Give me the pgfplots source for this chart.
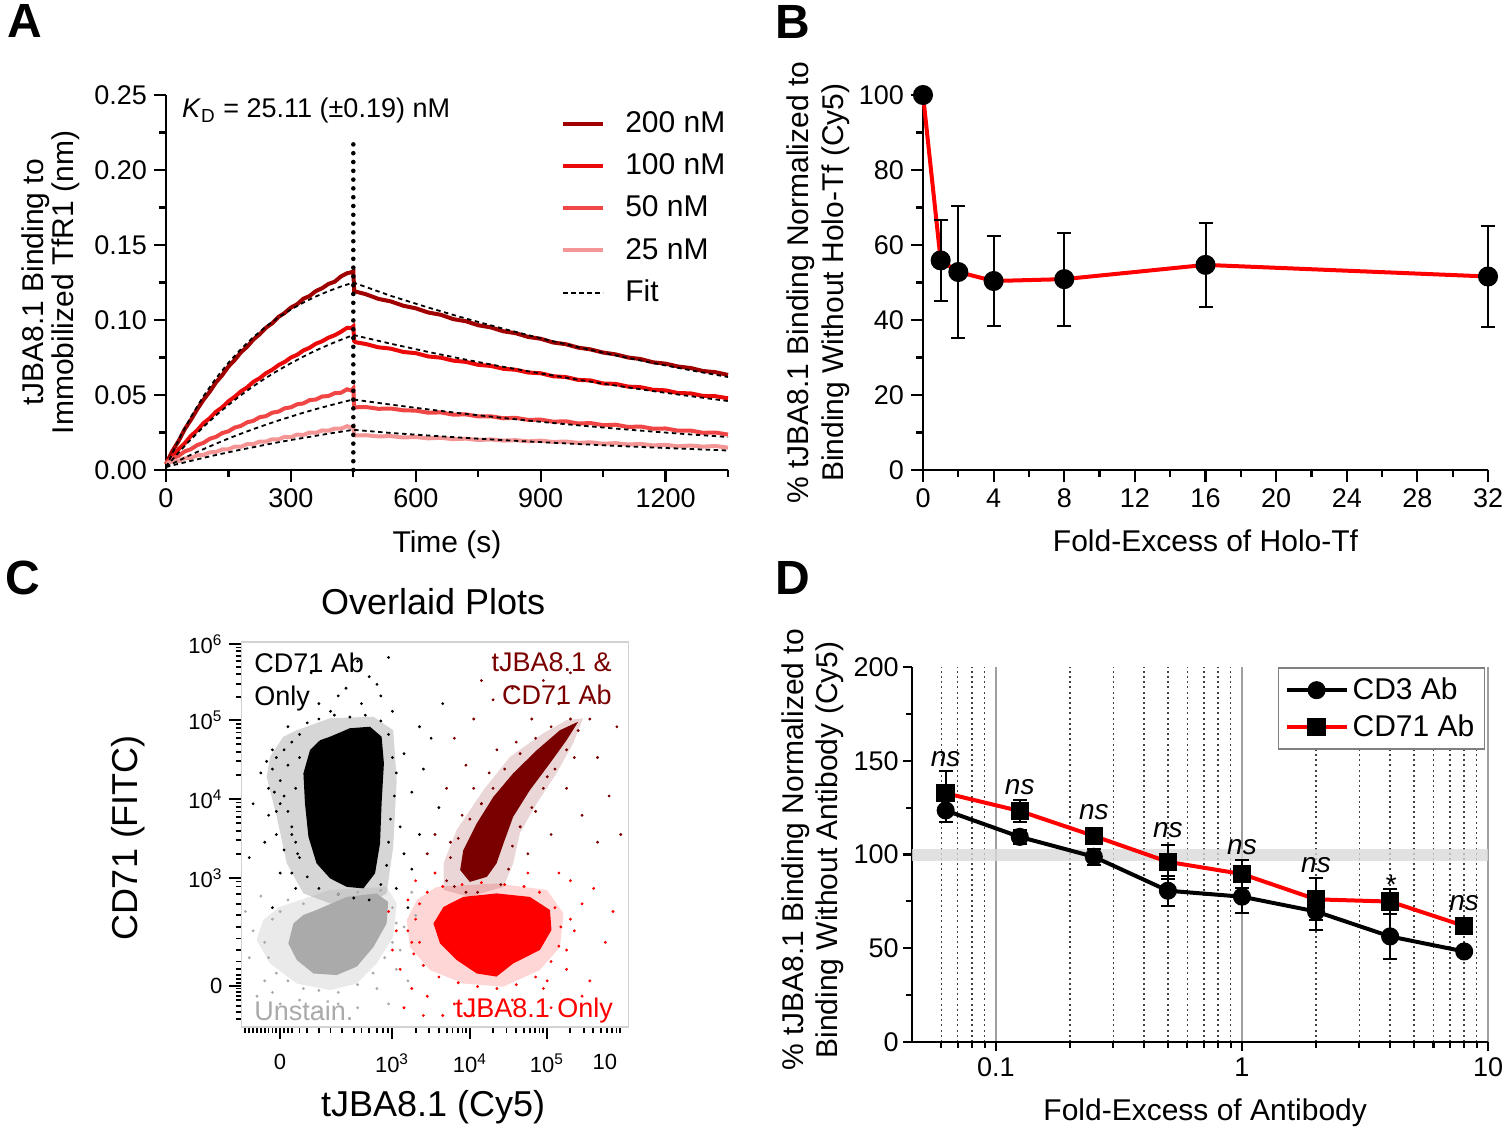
\documentclass[border=0pt]{standalone}
\usepackage{pgfplots}
\pgfplotsset{compat=1.18}
\usepackage{fontspec}
\setmainfont{Liberation Sans}

\definecolor{c200}{RGB}{160,0,0}
\definecolor{c100}{RGB}{235,10,10}
\definecolor{c50}{RGB}{240,70,70}
\definecolor{c25}{RGB}{244,150,150}
\definecolor{fdark}{RGB}{122,0,0}
\definecolor{fred}{RGB}{255,0,0}
\definecolor{fgray}{RGB}{170,170,170}

\pgfplotsset{
  gp/.style={
    scale only axis, anchor=south west,
    axis x line*=bottom, axis y line*=left,
    axis line style={line width=1.1pt},
    tick style={line width=1.1pt, black},
    tick align=outside,
    major tick length=6pt, minor tick length=3.5pt,
    ticklabel style={font=\fontsize{13.5}{16}\selectfont},
    label style={font=\fontsize{15}{17.5}\selectfont},
    /pgf/number format/assume math mode=true,
    /pgf/number format/1000 sep={},
    clip=false,
  },
  ebar/.style={error bars/.cd, y dir=both, y explicit,
    error bar style={black, line width=1pt},
    error mark options={rotate=90, black, mark size=3.5pt, line width=1pt}},
}

\begin{document}
\begin{tikzpicture}
\useasboundingbox (0,0) rectangle (752pt,-568pt);

% ---------------- A ----------------
\begin{axis}[gp, at={(83pt,-235pt)}, width=281pt, height=187.5pt,
  xmin=0, xmax=1350, ymin=0, ymax=0.25,
  xtick={0,300,600,900,1200}, minor xtick={150,450,750,1050,1350},
  ytick={0,0.05,0.10,0.15,0.20,0.25},
  minor ytick={0.025,0.075,0.125,0.175,0.225},
  yticklabel style={/pgf/number format/.cd, fixed, fixed zerofill, precision=2},
  xlabel={Time (s)},
  ylabel={tJBA8.1 Binding to\\Immobilized TfR1 (nm)},
  ylabel style={align=center, font=\fontsize{15}{15}\selectfont,
    at={(axis description cs:-0.205,0.5)}, anchor=center},
  xlabel style={at={(axis description cs:0.5,-0.2)}, anchor=center},
  legend style={draw=none, fill=none, at={(axis description cs:0.692,0.978)},
    anchor=north west, font=\fontsize{15}{17}\selectfont, row sep=5.1pt,
    column sep=8pt},
  legend cell align=left,
  legend image code/.code={\draw[#1] (0pt,0pt) -- (20pt,0pt);},
]
\addplot[c200, line width=2pt] coordinates {
(0,0.004) (15,0.0125) (30,0.0192) (45,0.0272) (60,0.0335) (75,0.0405) (90,0.0468)
(105,0.0522) (120,0.0584) (135,0.0632) (150,0.0690) (165,0.0733) (180,0.0785)
(195,0.0822) (210,0.0870) (225,0.0905) (240,0.0948) (255,0.0978) (270,0.1020)
(285,0.1047) (300,0.1083) (315,0.1105) (330,0.1142) (345,0.1160) (360,0.1193)
(375,0.1212) (390,0.1240) (405,0.1255) (420,0.1290) (435,0.1312) (445,0.1318)
(450,0.1325) (452,0.1195)
(455,0.1190) (480,0.1172) (510,0.1141) (540,0.1124) (570,0.1095) (600,0.1078)
(630,0.1050) (660,0.1035) (690,0.1006) (720,0.0992) (750,0.0965) (780,0.0951)
(810,0.0925) (840,0.0912) (870,0.0887) (900,0.0875) (930,0.0850) (960,0.0839)
(990,0.0816) (1020,0.0804) (1050,0.0783) (1080,0.0771) (1110,0.0750) (1140,0.0740)
(1170,0.0718) (1200,0.0709) (1230,0.0690) (1260,0.0680) (1290,0.0660) (1320,0.0652)
(1350,0.0634)};
\addlegendentry{200 nM}
\addplot[c100, line width=2pt] coordinates {
(0,0.004) (15,0.0088) (30,0.0138) (45,0.0178) (60,0.0228) (75,0.0265) (90,0.0312)
(105,0.0345) (120,0.0388) (135,0.0418) (150,0.0458) (165,0.0488) (180,0.0524)
(195,0.0551) (210,0.0588) (225,0.0612) (240,0.0645) (255,0.0668) (270,0.0699)
(285,0.0720) (300,0.0750) (315,0.0768) (330,0.0797) (345,0.0815) (360,0.0842)
(375,0.0858) (390,0.0882) (405,0.0898) (420,0.0921) (435,0.0948) (445,0.0946)
(450,0.0958) (452,0.0860)
(455,0.0852) (480,0.0840) (510,0.0818) (540,0.0809) (570,0.0787) (600,0.0779)
(630,0.0757) (660,0.0749) (690,0.0729) (720,0.0721) (750,0.0701) (780,0.0694)
(810,0.0675) (840,0.0668) (870,0.0650) (900,0.0645) (930,0.0625) (960,0.0620)
(990,0.0601) (1020,0.0597) (1050,0.0577) (1080,0.0574) (1110,0.0556) (1140,0.0552)
(1170,0.0535) (1200,0.0531) (1230,0.0513) (1260,0.0511) (1290,0.0494) (1320,0.0492)
(1350,0.0478)};
\addlegendentry{100 nM}
\addplot[c50, line width=2pt] coordinates {
(0,0.005) (15,0.0078) (30,0.0094) (45,0.0124) (60,0.0139) (75,0.0166) (90,0.0181)
(105,0.0208) (120,0.0221) (135,0.0246) (150,0.0258) (165,0.0283) (180,0.0294)
(195,0.0318) (210,0.0328) (225,0.0352) (240,0.0359) (255,0.0382) (270,0.0389)
(285,0.0411) (300,0.0418) (315,0.0438) (330,0.0444) (345,0.0466) (360,0.0470)
(375,0.0490) (390,0.0493) (405,0.0512) (420,0.0515) (435,0.0538) (445,0.0530)
(450,0.0545) (452,0.0418)
(455,0.0418) (480,0.0420) (510,0.0408) (540,0.0410) (570,0.0398) (600,0.0396)
(630,0.0382) (660,0.0384) (690,0.0369) (720,0.0371) (750,0.0357) (780,0.0358)
(810,0.0345) (840,0.0348) (870,0.0334) (900,0.0336) (930,0.0322) (960,0.0325)
(990,0.0310) (1020,0.0313) (1050,0.0299) (1080,0.0302) (1110,0.0287) (1140,0.0290)
(1170,0.0275) (1200,0.0277) (1230,0.0262) (1260,0.0263) (1290,0.0248) (1320,0.0250)
(1350,0.0236)};
\addlegendentry{50 nM}
\addplot[c25, line width=2pt] coordinates {
(0,0.004) (15,0.0056) (30,0.0060) (45,0.0078) (60,0.0080) (75,0.0098) (90,0.0100)
(105,0.0118) (120,0.0120) (135,0.0137) (150,0.0138) (165,0.0156) (180,0.0155)
(195,0.0173) (210,0.0172) (225,0.0190) (240,0.0189) (255,0.0205) (270,0.0204)
(285,0.0221) (300,0.0219) (315,0.0236) (330,0.0234) (345,0.0250) (360,0.0248)
(375,0.0264) (390,0.0262) (405,0.0276) (420,0.0275) (435,0.0292) (445,0.0284)
(450,0.0292) (452,0.0232)
(455,0.0230) (480,0.0232) (510,0.0224) (540,0.0226) (570,0.0217) (600,0.0220)
(630,0.0211) (660,0.0215) (690,0.0205) (720,0.0209) (750,0.0200) (780,0.0204)
(810,0.0196) (840,0.0199) (870,0.0191) (900,0.0196) (930,0.0187) (960,0.0190)
(990,0.0181) (1020,0.0185) (1050,0.0175) (1080,0.0179) (1110,0.0170) (1140,0.0174)
(1170,0.0164) (1200,0.0168) (1230,0.0158) (1260,0.0163) (1290,0.0156) (1320,0.0160)
(1350,0.0149)};
\addlegendentry{25 nM}
\addplot[black, line width=0.9pt, dash pattern=on 2.2pt off 1.8pt] coordinates {
(0,0.002) (30,0.0199) (60,0.0355) (90,0.0492) (120,0.0611) (150,0.0715) (180,0.0806)
(210,0.0886) (240,0.0956) (270,0.1017) (300,0.1070) (330,0.1116) (360,0.1157)
(390,0.1192) (420,0.1223) (450,0.1250) (540,0.1161) (630,0.1083) (720,0.1010)
(810,0.0942) (900,0.0878) (990,0.0819) (1080,0.0764) (1170,0.0713) (1260,0.0665)
(1350,0.0620)};
\addlegendentry{Fit}
\addplot[black, line width=0.9pt, dash pattern=on 2.2pt off 1.8pt, forget plot] coordinates {
(0,0.002) (30,0.0116) (60,0.0205) (90,0.0288) (120,0.0364) (150,0.0434) (180,0.0499)
(210,0.0559) (240,0.0614) (270,0.0665) (300,0.0712) (330,0.0756) (360,0.0797)
(390,0.0834) (420,0.0868) (450,0.0900) (540,0.0842) (630,0.0787) (720,0.0736)
(810,0.0688) (900,0.0644) (990,0.0602) (1080,0.0563) (1170,0.0526) (1260,0.0492)
(1350,0.0460)};
\addplot[black, line width=0.9pt, dash pattern=on 2.2pt off 1.8pt, forget plot] coordinates {
(0,0.002) (30,0.0062) (60,0.0102) (90,0.0139) (120,0.0175) (150,0.0210) (180,0.0242)
(210,0.0273) (240,0.0302) (270,0.0330) (300,0.0356) (330,0.0382) (360,0.0406)
(390,0.0428) (420,0.0450) (450,0.0470) (540,0.0436) (630,0.0404) (720,0.0374)
(810,0.0347) (900,0.0321) (990,0.0298) (1080,0.0276) (1170,0.0256) (1260,0.0237)
(1350,0.0220)};
\addplot[black, line width=0.9pt, dash pattern=on 2.2pt off 1.8pt, forget plot] coordinates {
(0,0.002) (30,0.0041) (60,0.0061) (90,0.0081) (120,0.0100) (150,0.0118) (180,0.0136)
(210,0.0152) (240,0.0169) (270,0.0185) (300,0.0200) (330,0.0214) (360,0.0228)
(390,0.0242) (420,0.0255) (450,0.0268) (540,0.0247) (630,0.0230) (720,0.0214)
(810,0.0199) (900,0.0186) (990,0.0173) (1080,0.0161) (1170,0.0150) (1260,0.0140)
(1350,0.0130)};
\addplot[black, line width=2.3pt, line cap=round, dash pattern=on 0pt off 4.4pt, forget plot]
  coordinates {(450,0) (450,0.222)};
\node[anchor=west, font=\fontsize{13.5}{16}\selectfont] at (axis cs:22,0.2395)
  {\textit{K}\textsubscript{D} = 25.11 (±0.19) nM};
\end{axis}

% ---------------- B ----------------
\begin{axis}[gp, at={(461.5pt,-235pt)}, width=282.5pt, height=187.5pt,
  xmin=0, xmax=32, ymin=0, ymax=100,
  xtick={0,4,8,12,16,20,24,28,32}, minor xtick={2,6,10,14,18,22,26,30},
  ytick={0,20,40,60,80,100}, minor ytick={10,30,50,70,90},
  xlabel={Fold-Excess of Holo-Tf},
  ylabel={\% tJBA8.1 Binding Normalized to\\Binding Without Holo-Tf (Cy5)},
  ylabel style={align=center, at={(axis description cs:-0.186,0.5)}, anchor=center},
  xlabel style={at={(axis description cs:0.5,-0.189)}, anchor=center},
]
\addplot[red, line width=2pt, mark=*, mark size=4pt,
  mark options={black, fill=black}, ebar] coordinates {
  (0,100) +- (0,0)
  (1,55.9) +- (0,10.8)
  (2,52.8) +- (0,17.5)
  (4,50.4) +- (0,12.0)
  (8,50.9) +- (0,12.4)
  (16,54.7) +- (0,11.2)
  (32,51.6) +- (0,13.5)};
\end{axis}

% ---------------- C ----------------
\begin{axis}[scale only axis, anchor=south west, at={(120.75pt,-513.5pt)},
  width=193.5pt, height=192.5pt,
  xmin=0, xmax=100, ymin=0, ymax=100, clip=false,
  axis line style={gray!35, line width=0.8pt},
  tick pos=left, tick align=outside,
  tick style={black, line width=0.9pt},
  major tick length=6pt, minor tick length=3pt,
  /pgf/number format/assume math mode=true,
  ticklabel style={font=\fontsize{11}{13}\selectfont},
  xticklabel style={yshift=-4pt},
  xtick={9.95,38.9,59.0,78.9},
  xticklabels={0,10\textsuperscript{3},10\textsuperscript{4},10\textsuperscript{5}},
  extra x ticks={93.9}, extra x tick labels={10},
  extra x tick style={tick style={draw=none}},
  minor xtick={1,2,3,4,5,6,7,8,9,11,12,13,15,17,20,23,26,29,31,33,35,36.5,37.8,
    45.0,48.5,51.0,53.0,54.5,55.9,57.1,58.1,65.0,68.5,71.0,72.9,74.5,75.8,77.0,78.0,
    84.9,88.4,90.9,92.8,94.4,95.7,96.9,97.9},
  ytick={10.6,38.7,59.2,79.7,99.5},
  yticklabels={0,10\textsuperscript{3},10\textsuperscript{4},10\textsuperscript{5},10\textsuperscript{6}},
  minor ytick={2,4,5.5,7,8,9,10,11.5,12.5,13.5,15,17,20,23,26,29,32,34.5,36.5,37.8,
    44.9,48.5,51.0,53.0,54.6,56.0,57.2,58.3,65.4,69.0,71.5,73.5,75.1,76.5,77.7,78.7,
    85.7,89.1,91.6,93.5,95.1,96.4,97.6,98.6},
  xlabel={tJBA8.1 (Cy5)}, ylabel={CD71 (FITC)},
  label style={font=\fontsize{18}{21}\selectfont},
  xlabel style={at={(axis description cs:0.495,-0.208)}, anchor=center},
  ylabel style={at={(axis description cs:-0.293,0.491)}, anchor=center},
  title={Overlaid Plots},
  title style={font=\fontsize{18}{21}\selectfont,
    at={(axis description cs:0.495,1.075)}, anchor=center},
]
% CD71 Ab only (black)
\addplot[draw=none, fill=black, fill opacity=0.16] coordinates {
(14.3,77.1) (22.9,80.2) (34.1,80.6) (39.2,77.1) (40.1,64.1) (39.2,46.8) (37.5,34.7)
(31.5,31.2) (22.9,32.1) (16.0,34.7) (11.7,42.5) (9.1,54.6) (6.5,65.0) (7.4,70.2)
(10.8,75.4)};
\addplot[draw=none, fill=black] coordinates {
(22.87,75.4) (28.0,77.6) (33.2,78.0) (36.2,75.4) (36.8,68.5) (36.2,58.1) (35.8,47.7)
(34.5,39.9) (31.5,36.0) (27.2,36.4) (22.9,38.6) (19.4,42.5) (17.3,49.4) (16.4,58.1)
(16.0,65.9) (17.7,71.9) (20.3,74.5)};
\addplot[only marks, mark=*, mark size=0.5pt, black] coordinates {
(30,95) (33,91) (27,88) (36,86) (12,78) (8,72) (5,66) (42,71) (44,61) (41,52) (6,48)
(10,40) (14,36) (44,41) (3,58) (20,84) (25,86) (39,82) (47,67) (43,31) (8,31) (46,50)
(18,92) (38,96) (51,57) (49,75) (2,44) (35,89) (11,60) (13,52) (9,56) (15,44) (42,45)
(40,36) (31,84) (23,82) (46,78) (52,84)
(7,62) (8,67) (9,70) (10,64) (11,72) (12,68) (13,74) (14,62) (15,70) (9,50) (11,46)
(13,40) (12,56) (14,48) (10,58) (7,55) (15,76) (17,79) (20,80) (24,81) (28,80.5)
(32,81) (36,79.5) (38,76) (39,70) (40,66) (39.5,60) (38.5,54) (38,48) (37.5,42)
(36,37) (33,33) (29,33.5) (25,34.5) (20,36) (17,39) (14.5,45) (13,50) (8.5,61) (6.5,69)};
% Unstained (gray)
\addplot[draw=none, fill=fgray, fill opacity=0.25] coordinates {
(9.9,31.2) (22.9,35.6) (37.5,36.4) (40.1,32.1) (39.2,23.4) (34.9,16.5) (29.8,11.3)
(22.9,9.6) (14.3,11.3) (7.4,16.5) (3.9,22.6) (5.6,27.8)};
\addplot[draw=none, fill=fgray] coordinates {
(19.4,30.4) (27.2,33.8) (34.9,34.7) (37.9,32.5) (37.5,26.9) (34.1,20.8) (29.8,15.7)
(24.6,13.5) (18.6,13.9) (14.3,17.4) (12.1,21.7) (13.4,26.9) (16.0,29.1)};
\addplot[only marks, mark=*, mark size=0.5pt, fgray] coordinates {
(5,34) (3,25) (2,18) (8,9) (15,7) (25,6) (35,10) (40,15) (42,26) (44,35) (6,12)
(30,5) (41,20) (1,30) (10,6) (20,4) (38,6) (43,12) (4,8) (45,29)
(8,28) (10,30) (12,33) (6,22) (7,18) (9,14) (12,12) (16,10) (20,9.5) (25,9) (30,11)
(34,14) (37,18) (39,22) (40,27) (39,31) (36,35.5) (30,35) (25,34.5) (16,32)};
% tJBA8.1 only (red)
\addplot[draw=none, fill=fred, fill opacity=0.16] coordinates {
(50.4,36.4) (65.9,37.3) (78.9,35.6) (83.2,29.5) (82.3,20.8) (77.1,14.8) (67.7,10.5)
(57.3,11.3) (48.7,14.8) (43.5,20.8) (42.7,27.8) (45.3,33.0)};
\addplot[draw=none, fill=fred] coordinates {
(57.3,33.8) (65.9,34.7) (74.5,33.8) (79.7,30.4) (80.1,25.2) (77.1,20.0) (70.2,16.5)
(65.9,13.1) (60.8,13.9) (55.6,17.4) (51.3,21.7) (49.6,26.9) (52.2,31.2)};
\addplot[only marks, mark=*, mark size=0.5pt, fred] coordinates {
(40,25) (41,15) (44,10) (48,8) (55,6) (62,5) (70,7) (78,10) (84,15) (86,25) (88,32)
(85,38) (45,38) (50,40) (94,22) (90,12) (38,30) (60,3) (74,40) (96,30) (42,5) (91,36)
(47,3) (80,5) (39,20) (43,33) (52,3) (88,8) (82,40) (46,22)
(44,22) (45,28) (46,32) (48,35) (52,36.5) (57,37) (62,37.5) (68,37) (73,36.5) (77,35)
(81,31) (82.5,26) (82,21) (80,17) (76,13) (71,11) (66,10) (61,10.5) (56,11.5) (51,13)
(47,16) (44.5,19) (43,25) (85,28) (84,20) (79,12)};
% tJBA8.1 & CD71 Ab (dark red)
\addplot[draw=none, fill=fdark, fill opacity=0.16] coordinates {
(88.3,80.2) (85.7,73.7) (81.4,65.9) (76.3,58.1) (71.9,50.3) (70.2,42.5) (67.7,36.4)
(59.0,33.8) (52.2,35.6) (52.2,42.5) (55.6,51.2) (62.5,61.5) (69.4,70.2) (78.0,76.3)
(84.0,79.7)};
\addplot[draw=none, fill=fdark] coordinates {
(87.0,79.3) (84.0,74.5) (79.7,68.5) (74.5,61.5) (70.2,54.6) (67.7,47.7) (65.9,42.5)
(63.4,39.0) (59.0,37.7) (56.5,40.8) (57.3,45.9) (60.8,52.9) (65.1,59.8) (70.2,65.9)
(76.3,71.9) (82.3,77.1)};
\addplot[only marks, mark=*, mark size=0.5pt, fdark] coordinates {
(55,75) (60,80) (65,85) (70,88) (78,90) (85,92) (90,85) (92,70) (95,60) (88,55)
(80,50) (74,45) (50,50) (53,62) (58,68) (66,72) (75,80) (82,84) (97,78) (62,90)
(48,45) (92,48) (70,60) (76,56) (84,62) (86,70) (62,58) (57,55) (54,48) (66,48)
(72,52) (79,65) (90,80) (98,50)
(53,38) (54,44) (56,49) (59,54) (62,58) (65,62) (68,67) (72,71) (76,75) (80,78)
(85,80) (87,77) (84,72) (81,67) (78,62) (75,57) (72,52) (70,47) (69,41) (67,37)
(61,35) (58,35) (55,36.5) (60,62) (64,66) (71,74)};
\node[anchor=north west, align=left, font=\fontsize{13.5}{16.5}\selectfont]
  at (axis cs:1.5,99) {CD71 Ab\\Only};
\node[anchor=north east, align=right, text=fdark, font=\fontsize{13.5}{16.5}\selectfont]
  at (axis cs:97.5,99) {tJBA8.1 \&\\CD71 Ab};
\node[anchor=west, text=fgray, font=\fontsize{13.5}{16.5}\selectfont]
  at (axis cs:1.5,4.2) {Unstain.};
\node[anchor=east, text=fred, font=\fontsize{13.5}{16.5}\selectfont]
  at (axis cs:97.8,4.2) {tJBA8.1 Only};
\end{axis}

% ---------------- D ----------------
\begin{axis}[gp, at={(456pt,-521pt)}, width=288pt, height=187.5pt,
  major tick length=4.5pt, minor tick length=3pt,
  yticklabel style={inner sep=2pt},
  xmode=log, xmin=0.0456, xmax=10, ymin=0, ymax=200,
  xtick={0.1,1,10}, xticklabels={0.1,1,10},
  minor xtick={0.06,0.07,0.08,0.09,0.2,0.3,0.4,0.5,0.6,0.7,0.8,0.9,2,3,4,5,6,7,8,9},
  ytick={0,50,100,150,200}, minor ytick={25,75,125,175},
  xmajorgrids, xminorgrids,
  major x grid style={gray!75, line width=0.7pt, solid},
  minor x grid style={black!75, line width=0.7pt, dash pattern=on 1pt off 1.6pt},
  xlabel={Fold-Excess of Antibody},
  ylabel={\% tJBA8.1 Binding Normalized to\\Binding Without Antibody (Cy5)},
  ylabel style={align=center, font=\fontsize{15}{17}\selectfont,
    at={(axis description cs:-0.172,0.512)}, anchor=center},
  xlabel style={at={(axis description cs:0.509,-0.189)}, anchor=center},
  legend style={at={(axis description cs:0.995,1.0)}, anchor=north east,
    draw=gray, line width=0.8pt, fill=white, font=\fontsize{15}{17}\selectfont,
    row sep=2pt, inner sep=3pt},
  legend cell align=left,
  legend image code/.code={\draw[mark repeat=2, mark phase=2, #1]
    plot coordinates {(0pt,0pt) (15pt,0pt) (30pt,0pt)};},
]
\addplot[draw=none, fill=gray!30, fill opacity=0.8, forget plot] coordinates {
  (0.0456,96.6) (10,96.6) (10,103.2) (0.0456,103.2)};
\addplot[black, line width=2pt, mark=*, mark size=3.5pt,
  mark options={black, fill=black}, ebar] coordinates {
  (0.0625,123.5) +- (0,6.2)
  (0.125,109.4) +- (0,3.6)
  (0.25,98.8) +- (0,4.4)
  (0.5,80.7) +- (0,8.1)
  (1,77.5) +- (0,8.5)
  (2,69.6) +- (0,10.0)
  (4,56.3) +- (0,12.0)
  (8,48.3) +- (0,2.0)};
\addlegendentry{CD3 Ab}
\addplot[red, line width=2pt, mark=square*, mark size=3.6pt,
  mark options={black, fill=black}, ebar] coordinates {
  (0.0625,132.7) +- (0,11.7)
  (0.125,123.2) +- (0,6.0)
  (0.25,109.9) +- (0,2.5)
  (0.5,96.1) +- (0,9.2)
  (1,89.6) +- (0,7.7)
  (2,76.1) +- (0,11.2)
  (4,74.9) +- (0,6.6)
  (8,61.9) +- (0,4.0)};
\addlegendentry{CD71 Ab}
\begin{scope}[font=\itshape\fontsize{14}{16}\selectfont]
\node at (axis cs:0.0625,151) {ns};
\node at (axis cs:0.125,135.9) {ns};
\node at (axis cs:0.25,122.7) {ns};
\node at (axis cs:0.5,112.9) {ns};
\node at (axis cs:1,104) {ns};
\node at (axis cs:2,94.3) {ns};
\node at (axis cs:4,84) {*};
\node at (axis cs:8,74) {ns};
\end{scope}
\end{axis}

% panel letters
\node[font=\bfseries\fontsize{24}{26}\selectfont] at (12.5pt,-10.5pt) {A};
\node[font=\bfseries\fontsize{24}{26}\selectfont] at (396.5pt,-11pt) {B};
\node[font=\bfseries\fontsize{24}{26}\selectfont] at (11.5pt,-289pt) {C};
\node[font=\bfseries\fontsize{24}{26}\selectfont] at (396.5pt,-289pt) {D};
\end{tikzpicture}
\end{document}
